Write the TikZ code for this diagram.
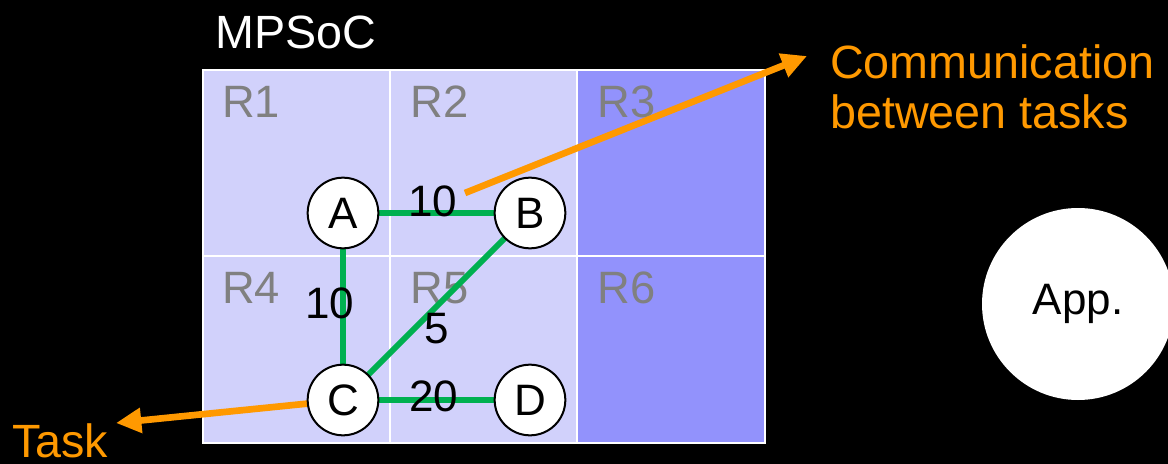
\documentclass[tikz,border=0pt]{standalone}
\usepackage{fontspec}
\setmainfont{Liberation Sans}
\usetikzlibrary{arrows.meta}
\definecolor{cellL}{RGB}{209,209,251}
\definecolor{cellD}{RGB}{146,146,252}
\definecolor{lbl}{RGB}{128,128,128}
\definecolor{org}{RGB}{255,153,0}
\definecolor{grn}{RGB}{0,176,80}
\tikzset{
  cell/.style={draw=white,line width=1.5pt},
  rlab/.style={anchor=base west,text=lbl,font=\fontsize{34}{40}\selectfont,inner sep=0pt},
  task/.style={circle,draw=black,line width=1.5pt,fill=white,minimum size=53pt,inner sep=0pt,font=\fontsize{33}{38}\selectfont},
  comm/.style={draw=grn,line width=4.5pt},
  wlab/.style={anchor=base,font=\fontsize{33}{38}\selectfont,inner sep=0pt},
  callout/.style={draw=org,line width=5pt,-{Triangle[length=19pt,width=18pt]}},
  otext/.style={anchor=base west,text=org,font=\fontsize{35}{40}\selectfont,inner sep=0pt},
}
\begin{document}
\begin{tikzpicture}[x=0.75pt,y=-0.75pt]
\fill[black] (0,0) rectangle (1168,464);
\useasboundingbox (0,0) rectangle (1168,464);
% cells
\filldraw[cell,fill=cellL] (203,70) rectangle (390,256);
\filldraw[cell,fill=cellL] (390,70) rectangle (577,256);
\filldraw[cell,fill=cellD] (577,70) rectangle (765,256);
\filldraw[cell,fill=cellL] (203,256) rectangle (390,443);
\filldraw[cell,fill=cellL] (390,256) rectangle (577,443);
\filldraw[cell,fill=cellD] (577,256) rectangle (765,443);
% labels
\node[anchor=base west,text=white,font=\fontsize{35}{40}\selectfont,inner sep=0pt] (mpsoc) at (215,48) {MPSoC};
\node[rlab] (r1) at (222,117) {R1};
\node[rlab] (r2) at (410,117) {R2};
\node[rlab] (r3) at (597,117) {R3};
\node[rlab] (r4) at (222,303) {R4};
\node[rlab] (r5) at (410,303) {R5};
\node[rlab] (r6) at (597,303) {R6};
% task coordinates
\coordinate (pA) at (343,213);
\coordinate (pB) at (530,213);
\coordinate (pC) at (343,400);
\coordinate (pD) at (530,400);
% edges
\draw[comm] (pA) -- (pB);
\draw[comm] (pA) -- (pC);
\draw[comm] (pB) -- (pC);
\draw[comm] (pC) -- (pD);
% weights
\node[wlab] (wab) at (433,216) {10};
\node[wlab] (wac) at (330,318) {10};
\node[wlab] (wbc) at (437,343) {5};
\node[wlab] (wcd) at (434,411) {20};
% task arrow behind C
\coordinate (tasktip) at (116,423);
\draw[callout] (pC) -- (tasktip);
% tasks
\node[task] (A) at (pA) {A};
\node[task] (B) at (pB) {B};
\node[task] (C) at (pC) {C};
\node[task] (D) at (pD) {D};
% communication arrow
\coordinate (cstart) at (465,193);
\coordinate (ctip) at (807,56);
\draw[callout] (cstart) -- (ctip);
\node[otext] (ctext1) at (830,78) {Communication};
\node[otext] (ctext2) at (830,128) {between tasks};
\node[otext] (tasktext) at (12,457) {Task};
% app
\node[circle,fill=white,minimum size=144pt,inner sep=0pt,font=\fontsize{33}{38}\selectfont] (app) at (1078,304) {App.};
\end{tikzpicture}
\end{document}
